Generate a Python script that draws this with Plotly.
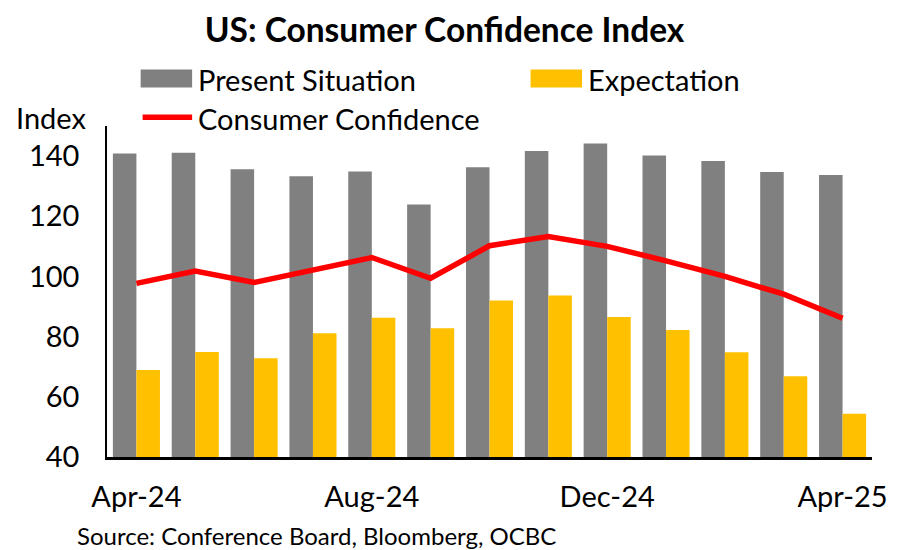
import plotly.graph_objects as go

months = ["Apr-24", "May-24", "Jun-24", "Jul-24", "Aug-24", "Sep-24", "Oct-24",
          "Nov-24", "Dec-24", "Jan-25", "Feb-25", "Mar-25", "Apr-25"]
present_situation = [140.9, 141.1, 135.6, 133.3, 134.9, 123.9, 136.3,
                     141.7, 144.2, 140.2, 138.4, 134.7, 133.7]
expectation = [68.9, 74.9, 72.8, 81.1, 86.3, 82.8, 92.0,
               93.7, 86.5, 82.2, 74.8, 66.8, 54.4]
consumer_confidence = [97.7, 101.8, 98.0, 102.1, 106.3, 99.4, 110.2,
                       113.3, 110.0, 105.2, 100.0, 94.1, 86.1]
tick_labels = ["Apr-24", "Aug-24", "Dec-24", "Apr-25"]
y_ticks = [40, 60, 80, 100, 120, 140]

GRAY = "#808080"
YELLOW = "#FFC000"
RED = "#FF0000"
FONT = "Lato"

# page offset of the default HTML body margin
OFF = 8
PAGE_W, PAGE_H = 899, 550
W, H = PAGE_W - OFF, PAGE_H - OFF
# plot area in page pixels
L, R, T, B = 107, 880, 126, 457.5


def px(x):
    return (x - L) / (R - L)


def py(y):
    return (B - y) / (B - T)


fig = go.Figure()
fig.add_trace(go.Bar(x=months, y=present_situation, name="Present Situation",
                     marker=dict(color=GRAY, line=dict(width=0))))
fig.add_trace(go.Bar(x=months, y=expectation, name="Expectation",
                     marker=dict(color=YELLOW, line=dict(width=0))))
fig.add_trace(go.Scatter(x=months, y=consumer_confidence, name="Consumer Confidence",
                         mode="lines", line=dict(color=RED, width=5.5)))

shapes = [
    dict(type="rect", xref="paper", yref="paper", x0=px(141), x1=px(193),
         y0=py(87.5), y1=py(69.5), fillcolor=GRAY, line=dict(width=0)),
    dict(type="rect", xref="paper", yref="paper", x0=px(535), x1=px(587),
         y0=py(87.5), y1=py(69.5), fillcolor=YELLOW, line=dict(width=0)),
    dict(type="line", xref="paper", yref="paper", x0=px(143), x1=px(193),
         y0=py(117.3), y1=py(117.3), line=dict(color=RED, width=5.5)),
]

annotations = [
    dict(text="Present Situation", xref="paper", yref="paper", x=px(197), y=py(79),
         xanchor="left", yanchor="middle", showarrow=False,
         font=dict(family=FONT, size=29, color="black")),
    dict(text="Expectation", xref="paper", yref="paper", x=px(591), y=py(79),
         xanchor="left", yanchor="middle", showarrow=False,
         font=dict(family=FONT, size=29, color="black")),
    dict(text="Consumer Confidence", xref="paper", yref="paper", x=px(197), y=py(118),
         xanchor="left", yanchor="middle", showarrow=False,
         font=dict(family=FONT, size=29, color="black")),
    dict(text="Index", xref="paper", yref="paper", x=px(13), y=py(117),
         xanchor="left", yanchor="middle", showarrow=False,
         font=dict(family=FONT, size=29, color="black")),
    dict(text="Source: Conference Board, Bloomberg, OCBC", xref="paper", yref="paper",
         x=px(75), y=py(536), xanchor="left", yanchor="middle", showarrow=False,
         font=dict(family=FONT, size=24, color="black")),
]

fig.update_layout(
    width=W, height=H,
    margin=dict(l=L - OFF, r=PAGE_W - R, t=T - OFF, b=PAGE_H - B, pad=0),
    paper_bgcolor="white", plot_bgcolor="white",
    barmode="group", bargap=0.2, bargroupgap=0,
    showlegend=False,
    title=dict(text="<b>US: Consumer Confidence Index</b>", x=px(448), xref="paper",
               xanchor="center", y=1 - (30.5 - OFF) / H, yref="container", yanchor="middle",
               font=dict(family=FONT, size=33.5, color="black")),
    shapes=shapes, annotations=annotations,
    font=dict(family=FONT, size=29, color="black"),
)
fig.update_xaxes(type="category", categoryorder="array", categoryarray=months,
                 tickmode="array", tickvals=tick_labels, ticktext=tick_labels,
                 showline=True, linecolor="black", linewidth=2.5, showgrid=False,
                 ticks="", ticklabelstandoff=12, zeroline=False,
                 tickfont=dict(family=FONT, size=29, color="black"))
fig.update_yaxes(range=[40, 150], tickmode="array", tickvals=y_ticks,
                 showline=True, linecolor="black", linewidth=1.5, showgrid=False,
                 ticks="", ticklabelstandoff=20, zeroline=False,
                 tickfont=dict(family=FONT, size=29, color="black"))

fig.write_html("out.html")
